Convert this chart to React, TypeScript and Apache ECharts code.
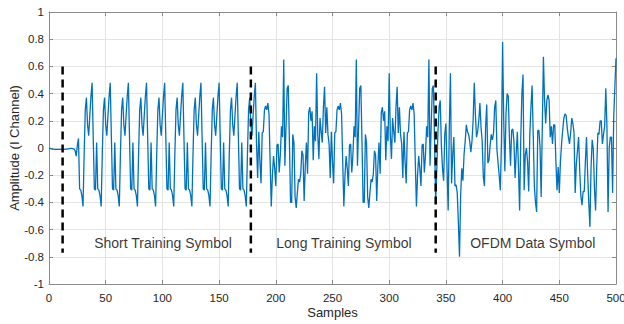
import React, { useEffect, useRef } from "react";
import * as echarts from "echarts";

// samples 0..25 : idle before the preamble
const preamble = [
  0.0, -0.003, -0.006, -0.008, -0.009, -0.01, -0.01, -0.01, -0.01, -0.01,
  -0.01, -0.01, -0.01, -0.01, -0.01, -0.009, -0.008, -0.006, -0.004, -0.003,
  -0.003, -0.004, -0.008, -0.02, -0.06, 0.02,
];

// samples 26..182 : short training symbol
const shortTraining = [
  0.07, -0.3, -0.31, -0.35, -0.43, -0.04, 0.28, 0.37, 0.17, 0.09, 0.24, 0.38,
  0.48, 0.08, -0.3, -0.31, 0.04, -0.3, -0.31, -0.35, -0.43, -0.04, 0.28, 0.37, 0.17, 0.09, 0.24, 0.38,
  0.48, 0.08, -0.3, -0.31, 0.04, -0.3, -0.31, -0.35, -0.43, -0.04, 0.28, 0.37, 0.17, 0.09, 0.24, 0.38,
  0.48, 0.08, -0.3, -0.31, 0.04, -0.3, -0.31, -0.35, -0.43, -0.04, 0.28, 0.37, 0.17, 0.09, 0.24, 0.38,
  0.48, 0.08, -0.3, -0.31, 0.04, -0.3, -0.31, -0.35, -0.43, -0.04, 0.28, 0.37, 0.17, 0.09, 0.24, 0.38,
  0.48, 0.08, -0.3, -0.31, 0.04, -0.3, -0.31, -0.35, -0.43, -0.04, 0.28, 0.37, 0.17, 0.09, 0.24, 0.38,
  0.48, 0.08, -0.3, -0.31, 0.04, -0.3, -0.31, -0.35, -0.43, -0.04, 0.28, 0.37, 0.17, 0.09, 0.24, 0.38,
  0.48, 0.08, -0.3, -0.31, 0.04, -0.3, -0.31, -0.35, -0.43, -0.04, 0.28, 0.37, 0.17, 0.09, 0.24, 0.38,
  0.48, 0.08, -0.3, -0.31, 0.04, -0.3, -0.31, -0.35, -0.43, -0.04, 0.28, 0.37, 0.17, 0.09, 0.24, 0.38,
  0.48, 0.08, -0.3, -0.31, 0.04, -0.3, -0.31, -0.35, -0.43, -0.04, 0.28, 0.37, 0.17, 0.09, 0.24, 0.38,
  0.48,
];

// samples 183..341 : long training symbol
const longTraining = [
  0.03, -0.22, 0.12, -0.1, -0.26, 0.11, 0.12, 0.28, 0.31, 0.28,
  0.33, 0.25, -0.1, -0.43, -0.2, -0.06, -0.15, -0.28, 0.02, 0.03,
  -0.18, -0.05, 0.16, 0.08, 0.65, -0.13, 0.15, 0.44, 0.46, 0.05,
  -0.4,
  -0.4, 0.1, 0.04, -0.36, -0.44, -0.33, -0.23, -0.25, -0.19, -0.02,
  -0.05, -0.39, -0.13, 0.04, -0.19, 0.26, 0.3, 0.2, 0.27, -0.09,
  0.16, 0.05, 0.55, 0.1, -0.08, 0.22, 0.12, 0.04, 0.3, 0.45,
  0.11, 0.3, 0.1, 0.03, -0.22, 0.12, -0.1, -0.26, 0.11, 0.12,
  0.28, 0.31, 0.28, 0.33, 0.25, -0.1, -0.43, -0.2, -0.06, -0.15,
  -0.28, 0.02, 0.03, -0.18, -0.05, 0.16, 0.08, 0.65, -0.13, 0.15,
  0.44, 0.46, 0.05, -0.4,
  -0.4, 0.1, 0.04, -0.36, -0.44, -0.33, -0.23, -0.25, -0.19, -0.02,
  -0.05, -0.39, -0.13, 0.04, -0.19, 0.26, 0.3, 0.2, 0.27, -0.09,
  0.16, 0.05, 0.55, 0.1, -0.08, 0.22, 0.12, 0.04, 0.3, 0.45,
  0.11, 0.3, 0.1, 0.03, -0.22, 0.12, -0.1, -0.26, 0.11, 0.12,
  0.28, 0.31, 0.28, 0.33, 0.25, -0.1, -0.43, -0.2, -0.06, -0.15,
  -0.28, 0.02, 0.03, -0.18, -0.05, 0.16, 0.08, 0.65, -0.13, 0.15,
  0.44, 0.46, 0.05, -0.4,
];

// samples 342..500 : OFDM data symbol
const dataSymbol = [
  -0.15, 0.12, 0.3, 0.35, 0.02, -0.15, -0.24, 0.1, 0.18, -0.15,
  -0.46, 0.15, 0.55, -0.26, -0.05, 0.08, -0.28, -0.27, -0.33, -0.55,
  -0.8, -0.35, -0.15, -0.24, -0.05, 0.05, 0.17, 0.12, 0.1, 0.05,
  -0.03, 0.05, 0.2, 0.48, 0.25, 0.08, 0.12, 0.2, 0.33, 0.15,
  0.05, -0.21, -0.28, 0.15, 0.32, -0.11, -0.09, 0.02, 0.1, 0.06,
  0.11, 0.3, 0.35, -0.01, -0.11, -0.2, -0.31, 0.05, 0.78, 0.2,
  -0.17, 0.25, 0.4, 0.38, 0.08, -0.13, 0.13, 0.14, 0.05, -0.22,
  -0.04, 0.12, -0.15, -0.46, 0.06, 0.4, 0.54, -0.31, -0.05, 0.0,
  -0.1, -0.32, 0.1, 0.3, 0.46, 0.1, -0.28, -0.4, -0.47, 0.13,
  0.13, 0.01, -0.36, 0.15, 0.67, 0.35, 0.18, 0.35, 0.39, 0.35,
  0.08, 0.16, 0.03, 0.17, 0.17, -0.1, -0.31, -0.14, -0.33, -0.1,
  0.03, 0.13, 0.22, 0.25, 0.24, 0.15, 0.08, 0.03, 0.11, 0.22,
  0.18, 0.11, -0.33, -0.12, -0.02, 0.08, -0.16, -0.35, -0.42, -0.32,
  -0.32, -0.1, 0.08, -0.19, -0.4, -0.58, -0.14, 0.06, -0.01, -0.3,
  -0.46, -0.14, 0.11, 0.1, 0.2, 0.2, 0.03, 0.1, 0.16, 0.44,
  0.16, -0.47, 0.0, 0.08, 0.08, -0.33, 0.23, 0.45, 0.66,
];

const dividerX = [12, 178, 341];
const dividerTop = 0.6;
const dividerBottom = -0.77;

const sectionLabels = ["Short Training Symbol", "Long Training Symbol", "OFDM Data Symbol"];
const sectionLabelX = [39.4, 200, 371];
const sectionLabelY = -0.7;

const FONT = "'Liberation Sans', Arial, Helvetica, sans-serif";
const AXIS_COLOR = "#8a8a8a";
const LABEL_COLOR = "#262626";
const GRID_COLOR = "#e4e4e4";

export default function App() {
  const ref = useRef<HTMLDivElement>(null);

  useEffect(() => {
    if (!ref.current) return;
    const chart = echarts.init(ref.current, null, { renderer: "svg" });
    const amplitude = [...preamble, ...shortTraining, ...longTraining, ...dataSymbol];
    const signal = amplitude.map((v, i) => [i, v]);

    const axisLine = { show: true, onZero: false, lineStyle: { color: AXIS_COLOR, width: 1 } };
    const axisTick = { show: true, inside: true, length: 4, lineStyle: { color: AXIS_COLOR, width: 1 } };

    const dividerSeries = dividerX.map((x) => ({
      type: "line",
      data: [
        [x, dividerTop],
        [x, dividerBottom],
      ],
      symbol: "none",
      silent: true,
      lineStyle: { color: "#000000", width: 2.5, type: [8, 5] },
      z: 5,
    }));

    chart.setOption({
      animation: false,
      backgroundColor: "#ffffff",
      textStyle: { fontFamily: FONT },
      grid: {
        left: 49,
        right: 8,
        top: 12,
        bottom: 40,
        containLabel: false,
        outerBoundsMode: "none",
      },
      xAxis: [
        {
          type: "value",
          min: 0,
          max: 500,
          interval: 50,
          position: "bottom",
          name: "Samples",
          nameLocation: "middle",
          nameGap: 22,
          nameMoveOverlap: false,
          nameTextStyle: { fontSize: 13, color: LABEL_COLOR, fontFamily: FONT },
          axisLine,
          axisTick,
          axisLabel: { fontSize: 11.5, color: LABEL_COLOR, margin: 8, fontFamily: FONT },
          splitLine: { show: true, lineStyle: { color: GRID_COLOR, width: 1 } },
        },
        {
          type: "value",
          min: 0,
          max: 500,
          interval: 50,
          position: "top",
          axisLine,
          axisTick,
          axisLabel: { show: false },
          splitLine: { show: false },
        },
      ],
      yAxis: [
        {
          type: "value",
          min: -1,
          max: 1,
          interval: 0.2,
          position: "left",
          name: "Amplitude (I Channel)",
          nameLocation: "middle",
          nameGap: 28,
          nameMoveOverlap: false,
          nameTextStyle: { fontSize: 13, color: LABEL_COLOR, fontFamily: FONT },
          axisLine,
          axisTick,
          axisLabel: {
            fontSize: 11.5,
            color: LABEL_COLOR,
            margin: 5,
            fontFamily: FONT,
            formatter: (v: number) => String(Math.round(v * 10) / 10),
          },
          splitLine: { show: true, lineStyle: { color: GRID_COLOR, width: 1 } },
        },
        {
          type: "value",
          min: -1,
          max: 1,
          interval: 0.2,
          position: "right",
          axisLine,
          axisTick,
          axisLabel: { show: false },
          splitLine: { show: false },
        },
      ],
      series: [
        {
          type: "line",
          data: signal,
          symbol: "none",
          showSymbol: false,
          silent: true,
          lineStyle: { color: "#0072BD", width: 1.3 },
          z: 3,
        },
        ...dividerSeries,
        {
          type: "scatter",
          silent: true,
          symbolSize: 1,
          itemStyle: { color: "rgba(0,0,0,0)" },
          data: sectionLabelX.map((x, i) => ({ value: [x, sectionLabelY], name: sectionLabels[i] })),
          label: {
            show: true,
            position: "right",
            distance: 0,
            formatter: "{b}",
            fontSize: 14,
            color: "#000000",
            fontFamily: FONT,
          },
          labelLayout: { hideOverlap: false },
          z: 6,
        },
      ],
    });

    return () => chart.dispose();
  }, []);

  return (
    <div
      ref={ref}
      style={{ position: "absolute", left: 0, top: 0, width: 624, height: 324 }}
    />
  );
}
